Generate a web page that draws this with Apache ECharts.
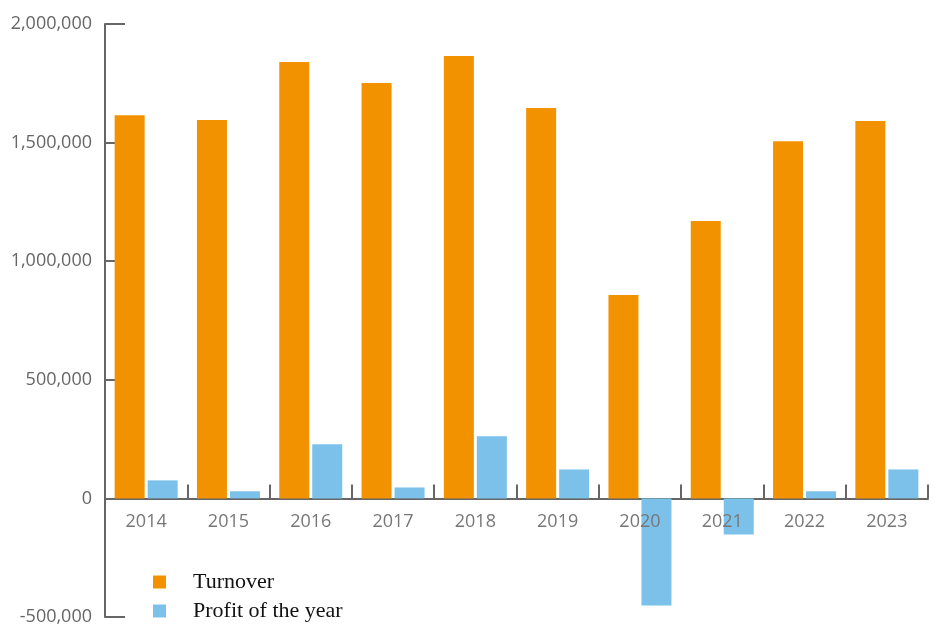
<!DOCTYPE html>
<html><head><meta charset="utf-8">
<script src="https://cdn.jsdelivr.net/npm/echarts@6/dist/echarts.min.js"></script>
<style>html,body{margin:0;padding:0;background:#fff}#c{width:935px;height:628px}</style>
</head><body><div id="c"></div>
<script>
const years = ['2014','2015','2016','2017','2018','2019','2020','2021','2022','2023'];
const turnover = [1615000,1595000,1840000,1751000,1865000,1646000,857000,1169000,1506000,1591000];
const profit = [76000,30000,228000,46000,262000,122000,-451000,-152000,30000,122000];
const seriesNames = ['Turnover','Profit of the year'];
const axisColor = '#666666';
const chart = echarts.init(document.getElementById('c'));
chart.setOption({
  animation:false,
  grid:{left:105,right:7,top:24,bottom:11,containLabel:false,outerBoundsMode:'none'},
  legend:{
    orient:'vertical', left:153, top:571, padding:0, itemWidth:13, itemHeight:13, itemGap:7,
    icon:'rect',
    textStyle:{fontFamily:'Liberation Serif',fontSize:22,color:'#111',padding:[0,0,0,22]},
    data:seriesNames
  },
  xAxis:[{
    type:'category', data:years,
    axisLine:{onZero:true,lineStyle:{color:axisColor,width:2}},
    axisTick:{show:true,inside:true,length:14,lineStyle:{color:axisColor,width:2}},
    axisLabel:{show:false}
  },{
    type:'category', data:years, position:'bottom', offset:-119, z:10,
    axisLine:{show:false}, axisTick:{show:false},
    axisLabel:{margin:15,fontFamily:'Open Sans',fontSize:18,color:'#777'}
  }],
  yAxis:{
    type:'value', min:-500000, max:2000000, interval:500000,
    axisLine:{show:true,lineStyle:{color:axisColor,width:2}},
    axisTick:{show:true,inside:true,length:20,lineStyle:{color:axisColor,width:2}},
    splitLine:{show:false},
    axisLabel:{margin:13,fontFamily:'Open Sans',fontSize:18,color:'#666',
      formatter:v=>v.toLocaleString('en-US')}
  },
  series:[
    {name:seriesNames[0],type:'bar',data:turnover,barWidth:30,barGap:'10%',itemStyle:{color:'#F39200'}},
    {name:seriesNames[1],type:'bar',data:profit,barWidth:30,itemStyle:{color:'#7BC1EA'}}
  ]
});
</script></body></html>
